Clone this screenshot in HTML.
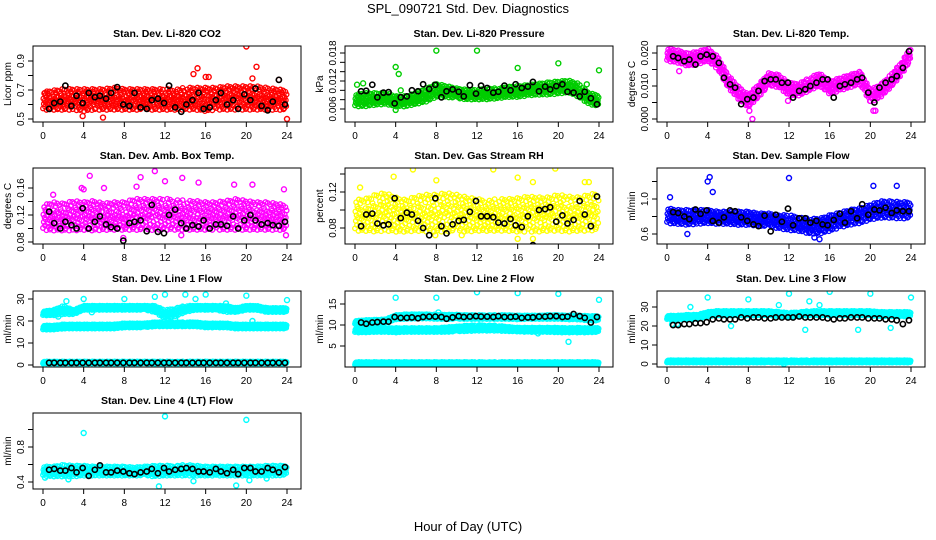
<!DOCTYPE html>
<html><head><meta charset="utf-8"><title>SPL_090721 Std. Dev. Diagnostics</title>
<style>
html,body{margin:0;padding:0;background:#fff;}
svg{display:block;font-family:"Liberation Sans",Arial,sans-serif;}
</style></head>
<body>
<svg id="chart" width="936" height="540" viewBox="0 0 936 540">
<text x="468" y="13" text-anchor="middle" font-size="13">SPL_090721  Std. Dev. Diagnostics</text>
<text x="468" y="531" text-anchor="middle" font-size="13">Hour of Day (UTC)</text>
</svg>
<script>
// shared
const blackHours=[0.6,1.1,1.7,2.2,2.8,3.3,3.9,4.5,5.1,5.6,6.2,6.7,7.3,7.9,8.5,9.0,9.6,10.2,10.7,11.3,11.9,12.4,13.0,13.6,14.1,14.7,15.3,15.8,16.4,17.0,17.5,18.1,18.7,19.2,19.8,20.4,20.9,21.5,22.1,22.6,23.2,23.8];
const xTicks=[0,4,8,12,16,20,24];
const bandHours=[0,1,2,3,4,5,6,7,8,9,10,11,12,13,14,15,16,17,18,19,20,21,22,23,24];
// CO2
const co2Lo=[.56,.56,.56,.56,.55,.56,.56,.56,.56,.56,.56,.56,.56,.56,.56,.56,.55,.56,.56,.56,.56,.56,.56,.56,.56];
const co2Hi=[.69,.7,.71,.71,.71,.71,.71,.72,.71,.71,.71,.71,.71,.71,.72,.72,.72,.72,.73,.73,.73,.73,.72,.71,.70];
const co2Black=[.57,.61,.62,.73,.59,.66,.61,.68,.65,.66,.64,.68,.72,.6,.59,.68,.58,.57,.63,.64,.61,.73,.58,.55,.6,.63,.68,.57,.58,.63,.68,.6,.63,.57,.67,.63,.71,.59,.56,.62,.77,.6];
const co2OutT=[20,21,14.8,15.2,16,16.3,20.6,23.2,24,3.9,5.9,0.2];
const co2OutV=[1.0,.86,.81,.85,.79,.79,.78,.77,.5,.52,.51,.68];
// Pressure
const presLo=[.0065,.0065,.0068,.007,.0065,.0065,.007,.0075,.0085,.0085,.0082,.008,.008,.008,.0082,.0085,.0085,.0088,.009,.009,.0092,.0095,.0085,.007,.0065];
const presHi=[.0092,.0095,.0095,.0095,.0088,.0088,.0095,.0105,.0115,.011,.0105,.0102,.0102,.0105,.0105,.0108,.011,.0112,.0115,.0118,.012,.0122,.0115,.0095,.009];
const presBlack=[.0098,.0099,.0112,.0085,.0095,.0096,.0072,.0085,.0087,.0100,.0098,.0113,.0103,.0112,.0085,.0098,.0102,.0097,.0087,.0111,.0093,.0110,.0105,.0095,.0097,.0110,.0100,.0113,.0105,.0108,.0118,.0098,.0108,.0102,.0109,.0113,.0097,.0095,.0087,.0097,.0083,.0070];
const presOutT=[4,4.3,8,12,16,20,24,0.2,0.8,4,4.5,22.8];
const presOutV=[.015,.0135,.0185,.0185,.0148,.0158,.0143,.0112,.0115,.0058,.0100,.0113];
// Li-820 Temp
const tempLo=[.0175,.017,.016,.0165,.0175,.015,.0095,.006,.0035,.0065,.010,.0095,.007,.007,.0085,.010,.0075,.0085,.0095,.0105,.005,.0065,.0095,.013,.018];
const tempHi=[.0215,.021,.020,.0205,.0215,.019,.0135,.010,.0075,.0105,.014,.0135,.011,.011,.0125,.014,.0115,.0125,.0135,.0145,.009,.0105,.0135,.017,.022];
const tempBlack=[.019,.0185,.0175,.018,.0165,.019,.0195,.019,.017,.0125,.0105,.0095,.0045,.006,.0065,.0085,.0115,.012,.012,.011,.011,.0065,.0085,.009,.01,.011,.012,.012,.0065,.01,.0105,.011,.012,.0125,.008,.005,.0095,.011,.012,.013,.0155,.0205];
const tempOutT=[1.2,8.4,8.1,11.9,20.3,20.5];
const tempOutV=[.0145,.0,.0025,.0055,.0025,.0025];
// Amb box temp
const ambLo=[.097,.096,.096,.096,.097,.096,.097,.097,.097,.097,.096,.097,.097,.097,.097,.097,.097,.097,.097,.097,.097,.097,.097,.097,.097];
const ambHi=[.135,.14,.138,.142,.14,.142,.138,.14,.14,.145,.145,.145,.145,.145,.142,.142,.14,.14,.142,.145,.142,.14,.14,.138,.135];
const ambBlack=[.125,.108,.100,.110,.105,.100,.130,.100,.110,.118,.106,.102,.100,.082,.108,.110,.112,.096,.135,.095,.093,.120,.128,.108,.100,.105,.103,.112,.100,.106,.106,.104,.118,.100,.112,.120,.112,.106,.108,.105,.104,.110];
const ambOutT=[4.6,9.6,11,12,13.7,20.6,23.7,6,4,1,7.9,23.9,13.6,3.8,9.2,18.8,15.3];
const ambOutV=[.178,.176,.185,.17,.175,.165,.158,.16,.158,.15,.086,.09,.09,.16,.162,.165,.168];
// Gas stream RH
const rhLo=[.076,.076,.075,.076,.075,.075,.076,.075,.075,.075,.075,.075,.076,.076,.076,.076,.075,.075,.075,.076,.076,.075,.076,.076,.077];
const rhHi=[.112,.113,.118,.12,.115,.112,.116,.118,.118,.12,.118,.115,.113,.112,.113,.113,.114,.116,.115,.115,.118,.116,.115,.118,.12];
const rhBlack=[.082,.095,.096,.085,.083,.084,.113,.091,.097,.095,.088,.080,.072,.113,.082,.074,.084,.088,.089,.098,.110,.093,.093,.092,.086,.085,.090,.083,.081,.093,.061,.100,.101,.103,.087,.094,.085,.089,.110,.095,.082,.115];
const rhOutT=[5.7,13.6,19.7,16,3.8,8,17.5,22.6,23,0.5,16,7.9,10.5,17.5];
const rhOutV=[.145,.145,.146,.136,.137,.133,.131,.131,.131,.125,.068,.072,.072,.068];
// Sample flow
const sfLo=[.72,.71,.70,.71,.72,.71,.71,.70,.70,.69,.68,.66,.64,.63,.60,.60,.63,.67,.70,.72,.76,.78,.78,.77,.78];
const sfHi=[.90,.88,.88,.88,.88,.86,.86,.86,.86,.84,.84,.82,.82,.80,.78,.78,.82,.85,.88,.90,.94,.98,.98,.97,.97];
const sfBlack=[.85,.84,.80,.77,.88,.83,.87,.75,.73,.79,.87,.86,.79,.75,.71,.69,.81,.63,.82,.74,.89,.7,.78,.78,.73,.75,.71,.7,.76,.83,.73,.86,.78,.94,.82,.88,.87,.9,.84,.87,.86,.86];
const sfOutT=[4,4.2,12,20,20.3,22.6,2,14.5,15,4.5,0.3];
const sfOutV=[1.2,1.25,1.24,1.41,1.15,1.15,.6,.56,.54,1.08,1.02];
// Line 1 flow
const l1aLo=[16,16,16.5,16.5,16.5,16.5,16.5,16.5,17,17,17,17.5,17.5,17.5,17.5,17.5,17,17,17,16.5,16.5,16.5,16.5,16.5,16.5];
const l1aHi=[18,18,18.5,18.5,18.5,18.5,18.5,18.5,19,19,19,19.5,19.5,19.5,19.5,19.5,19,19,19,18.5,18.5,18.5,18.5,18.5,18.5];
const l1bLo=[22.5,22.5,23,23,25,25,25,25,25,25,25,24,21,22,24,25,25,25,24,24,25,25,24,24,24];
const l1bHi=[24.5,25,27,25,27,27,27,27,27,27,27,27,25,26,27,27,27,27,27,26,27,27,26,26,26];
const l1cLo=[0.6,0.6,0.6,0.6,0.6,0.6,0.6,0.6,0.6,0.6,0.6,0.6,0.6,0.6,0.6,0.6,0.6,0.6,0.6,0.6,0.6,0.6,0.6,0.6,0.6];
const l1cHi=[1.6,1.6,1.6,1.6,1.6,1.6,1.6,1.6,1.6,1.6,1.6,1.6,1.6,1.6,1.6,1.6,1.6,1.6,1.6,1.6,1.6,1.6,1.6,1.6,1.6];
const l1Black=[1,1,1,1,1,1,1,1,1,1,1,1,1,1,1,1,1,1,1,1,1,1,1,1,1,1,1,1,1,1,1,1,1,1,1,1,1,1,1,1,1,1];
const l1OutT=[2.3,4,8,11,12,14,16,20,24,15,1.5,18,20.6,13,4.8];
const l1OutV=[29,30,30,31,32,32,32,31.5,29.5,30,22,28,20,21,24];
// Line 2 flow
const l2aLo=[8.2,8.2,8.3,8.3,8.2,8.3,8.3,8.3,8.3,8.3,8.4,8.5,8.6,8.6,8.6,8.5,8.4,8.3,8.3,8.3,8.2,8.2,8.2,8.2,8.3];
const l2aHi=[9.3,9.3,9.3,9.3,9.3,9.3,9.3,9.3,9.3,9.5,9.7,9.9,10,10,9.9,9.6,9.4,9.4,9.4,9.4,9.4,9.3,9.4,9.3,9.4];
const l2bLo=[10.2,10.2,10.3,10.4,11.3,11.4,11.5,11.5,11.4,11.4,11.4,11.4,11.4,11.4,11.4,11.4,11.3,11.4,11.4,11.4,11.4,11.3,11.3,11,11];
const l2bHi=[11,11.2,11.3,11.4,12.4,12.6,12.6,12.6,12.5,12.5,12.5,12.4,12.4,12.4,12.4,12.4,12.3,12.3,12.3,12.4,12.4,12.3,12.3,12.2,12.2];
const l2cLo=[0.5,0.5,0.5,0.5,0.5,0.5,0.5,0.5,0.5,0.5,0.5,0.5,0.5,0.5,0.5,0.5,0.5,0.5,0.5,0.5,0.5,0.5,0.5,0.5,0.5];
const l2cHi=[1.2,1.2,1.2,1.2,1.2,1.2,1.2,1.2,1.2,1.2,1.2,1.2,1.2,1.2,1.2,1.2,1.2,1.2,1.2,1.2,1.2,1.2,1.2,1.2,1.2];
const l2Black=[10.6,10.3,10.6,10.7,10.8,10.8,11.9,11.7,11.7,11.8,11.6,11.9,12.0,12.0,11.9,11.5,11.8,12.1,11.9,12.0,12.1,12.0,12.0,11.9,12.1,11.9,11.9,12.0,11.7,11.8,11.8,12.0,12.0,12.1,12.1,11.9,12.0,12.6,12.1,11.7,10.6,11.9];
const l2OutT=[4,8,12,16,20,24,21,8.2,18];
const l2OutV=[16.5,16.5,17.8,17.6,17.4,16,6,13,8];
// Line 3 flow
const l3aLo=[23.5,23.5,23.5,23.5,25,25.5,25.5,25.5,25.5,25.5,25.5,25,24.5,25,25.5,25.5,25.5,25.5,25.5,25.5,25.5,25,25,25,25];
const l3aHi=[25.5,25.5,26,26,27.5,28,28,28,28,28,28,27.5,27,27.5,28,28,28,28,28,28,28,27.5,27.5,27.5,27.5];
const l3bLo=[0.7,0.7,0.7,0.7,0.7,0.7,0.7,0.7,0.7,0.7,0.7,0.7,0.7,0.7,0.7,0.7,0.7,0.7,0.7,0.7,0.7,0.7,0.7,0.7,0.7];
const l3bHi=[2,2,2,2,2,2,2,2,2,2,2,2,2,2,2,2,2,2,2,2,2,2,2,2,2];
const l3Black=[20.5,20.5,21,21,21.5,21.5,22,23.5,24,23.5,23.5,23.5,24.5,24,24.5,24.5,24,24,24.5,24.5,24.5,24.5,25,24.5,24.5,24.5,24.5,24,23.5,24,24,24.5,24.5,24.5,24,24,24,23.5,23.5,23,21,23];
const l3OutT=[4,8,12,16,20,24,11,15,14,13.6,18.8,6.3,22,2.3,0.5,1,11.5];
const l3OutV=[35,34,37,38,37,35,31,31,33,18,18,20,19,30,21,21,0];
// Line 4 flow
const l4Lo=[.47,.46,.46,.46,.47,.47,.47,.47,.47,.47,.47,.46,.47,.47,.47,.47,.47,.47,.47,.47,.47,.47,.47,.47,.48];
const l4Hi=[.58,.58,.60,.59,.59,.58,.58,.58,.58,.57,.58,.59,.59,.59,.60,.59,.58,.58,.58,.58,.58,.58,.59,.59,.59];
const l4Black=[.54,.55,.53,.53,.56,.51,.56,.47,.54,.59,.51,.51,.53,.52,.50,.49,.51,.52,.55,.50,.56,.52,.54,.55,.56,.55,.52,.52,.51,.55,.52,.50,.54,.49,.56,.56,.52,.52,.56,.54,.51,.57];
const l4OutT=[4,12,20,11.4,19,2.5,0.2,14.8,20.3,22];
const l4OutV=[.96,1.15,1.11,.35,.36,.43,.45,.41,.42,.44];

const NS="http://www.w3.org/2000/svg";
const svg=document.getElementById('chart');
const colLeft=[33,345,657], rowTop=[46,168,291,413], boxW=268, boxH=76;
const fracs=[.1,.62,.33,.9,.5,.2,.78,.42,.7,.02,.98,.55,.27,.85,.15,.66,.38,.95,.05,.47];

function mk(tag,attrs,parent){const e=document.createElementNS(NS,tag);for(const k in attrs)e.setAttribute(k,attrs[k]);(parent||svg).appendChild(e);return e;}
function interp(arr,t){const i=Math.min(Math.floor(t),23);const f=t-i;return arr[i]*(1-f)+arr[i+1]*f;}

function panel(p){
  const L=colLeft[p.col], T=rowTop[p.row];
  const g=mk('g',{});
  
  
  const xs=t=>L+10+t*(244/24);
  const ys=v=>p.y1+(v-p.v1)*(p.y2-p.y1)/(p.v2-p.v1);
  const title=mk('text',{x:L+boxW/2,y:T-9,'text-anchor':'middle','font-size':'10.5','font-weight':'bold'},g);
  title.textContent=p.title;
  
  
  const clip='c'+p.name;
  const cp=mk('clipPath',{id:clip},g);mk('rect',{x:L,y:T,width:boxW,height:boxH},cp);
  const pts=mk('g',{'clip-path':'url(#'+clip+')',fill:'none'},g);
  p.bands.forEach(([lo,hi])=>{
    const n=26;
    for(let h=0;h<24;h++)for(let k=0;k<n;k++){
      const t=h+k/n;const a=interp(lo,t),b=interp(hi,t);
      const v=a+fracs[(h*7+k)%fracs.length]*(b-a);
      const c=mk('circle',{cx:xs(t).toFixed(1),cy:ys(v).toFixed(1),r:2.3,stroke:p.color,'stroke-width':1.3},pts);
      
      
    }
  });
  p.outT.forEach((t,i)=>{
    const c=mk('circle',{cx:xs(t),cy:ys(p.outV[i]),r:2.5,stroke:p.color,'stroke-width':1.4},pts);
    
    
  });
  p.black.forEach((v,i)=>{
    const c=mk('circle',{cx:xs(blackHours[i]),cy:ys(v),r:2.6,stroke:'#000','stroke-width':1.6},pts);
    
    
  });
  const box=mk('rect',{x:L,y:T,width:boxW,height:boxH,fill:'none',stroke:'#000','stroke-width':1},g);
  
  
  const B=T+boxH;
  xTicks.forEach(t=>{
    mk('line',{x1:xs(t),x2:xs(t),y1:B,y2:B+5,stroke:'#000'},g);
    const tx=mk('text',{x:xs(t),y:B+17,'text-anchor':'middle','font-size':'10'},g);
    tx.textContent=t;
    
    
  });
  p.ticks.forEach((v,i)=>{
    const y=ys(v);
    mk('line',{x1:L-5,x2:L,y1:y,y2:y,stroke:'#000'},g);
    if(p.labels[i]!==''){
      const tx=mk('text',{x:L-9,y:y,'text-anchor':'middle','font-size':'10',transform:'rotate(-90 '+(L-9)+' '+y+')'},g);
      tx.textContent=p.labels[i];
      
      
    }
  });
  const yl=mk('text',{x:L-22,y:T+boxH/2,'text-anchor':'middle','font-size':'10',transform:'rotate(-90 '+(L-22)+' '+(T+boxH/2)+')'},g);
  yl.textContent=p.ylabel;
  
  
}

panel({name:'panel-co2',col:0,row:0,title:'Stan. Dev. Li-820 CO2',ylabel:'Licor ppm',color:'#ff0000',v1:.5,y1:119,v2:.9,y2:61,ticks:[.5,.6,.7,.8,.9],labels:['0.5','','0.7','','0.9'],bands:[[co2Lo,co2Hi]],black:co2Black,outT:co2OutT,outV:co2OutV});
panel({name:'panel-pressure',col:1,row:0,title:'Stan. Dev. Li-820 Pressure',ylabel:'kPa',color:'#00cd00',v1:.006,y1:109,v2:.018,y2:53,ticks:[.006,.008,.01,.012,.014,.016,.018],labels:['0.006','','','0.012','','','0.018'],bands:[[presLo,presHi]],black:presBlack,outT:presOutT,outV:presOutV});
panel({name:'panel-li820-temp',col:2,row:0,title:'Stan. Dev. Li-820 Temp.',ylabel:'degrees C',color:'#ff00ff',v1:0,y1:119,v2:.02,y2:53,ticks:[0,.005,.01,.015,.02],labels:['0.000','','0.010','','0.020'],bands:[[tempLo,tempHi]],black:tempBlack,outT:tempOutT,outV:tempOutV});
panel({name:'panel-amb-box-temp',col:0,row:1,title:'Stan. Dev. Amb. Box Temp.',ylabel:'degrees C',color:'#ff00ff',v1:.08,y1:242,v2:.16,y2:188,ticks:[.08,.1,.12,.14,.16],labels:['0.08','','0.12','','0.16'],bands:[[ambLo,ambHi]],black:ambBlack,outT:ambOutT,outV:ambOutV});
panel({name:'panel-gas-rh',col:1,row:1,title:'Stan. Dev. Gas Stream RH',ylabel:'percent',color:'#ffff00',v1:.08,y1:228,v2:.12,y2:192,ticks:[.08,.1,.12,.14],labels:['0.08','','0.12',''],bands:[[rhLo,rhHi]],black:rhBlack,outT:rhOutT,outV:rhOutV});
panel({name:'panel-sample-flow',col:2,row:1,title:'Stan. Dev. Sample Flow',ylabel:'ml/min',color:'#0000ff',v1:.6,y1:234,v2:1.0,y2:199,ticks:[.6,.8,1.0,1.2],labels:['0.6','','1.0',''],bands:[[sfLo,sfHi]],black:sfBlack,outT:sfOutT,outV:sfOutV});
panel({name:'panel-line1-flow',col:0,row:2,title:'Stan. Dev. Line 1 Flow',ylabel:'ml/min',color:'#00ffff',v1:0,y1:365,v2:30,y2:299,ticks:[0,10,20,30],labels:['0','10','20','30'],bands:[[l1aLo,l1aHi],[l1bLo,l1bHi],[l1cLo,l1cHi]],black:l1Black,outT:l1OutT,outV:l1OutV});
panel({name:'panel-line2-flow',col:1,row:2,title:'Stan. Dev. Line 2 Flow',ylabel:'ml/min',color:'#00ffff',v1:5,y1:346,v2:15,y2:304,ticks:[5,10,15],labels:['5','10','15'],bands:[[l2aLo,l2aHi],[l2bLo,l2bHi],[l2cLo,l2cHi]],black:l2Black,outT:l2OutT,outV:l2OutV});
panel({name:'panel-line3-flow',col:2,row:2,title:'Stan. Dev. Line 3 Flow',ylabel:'ml/min',color:'#00ffff',v1:0,y1:364,v2:30,y2:307,ticks:[0,10,20,30],labels:['0','10','20','30'],bands:[[l3aLo,l3aHi],[l3bLo,l3bHi]],black:l3Black,outT:l3OutT,outV:l3OutV});
panel({name:'panel-line4-flow',col:0,row:3,title:'Stan. Dev. Line 4 (LT) Flow',ylabel:'ml/min',color:'#00ffff',v1:.4,y1:482,v2:.8,y2:447,ticks:[.4,.6,.8,1.0],labels:['0.4','','0.8',''],bands:[[l4Lo,l4Hi]],black:l4Black,outT:l4OutT,outV:l4OutV});
</script>
</body></html>
